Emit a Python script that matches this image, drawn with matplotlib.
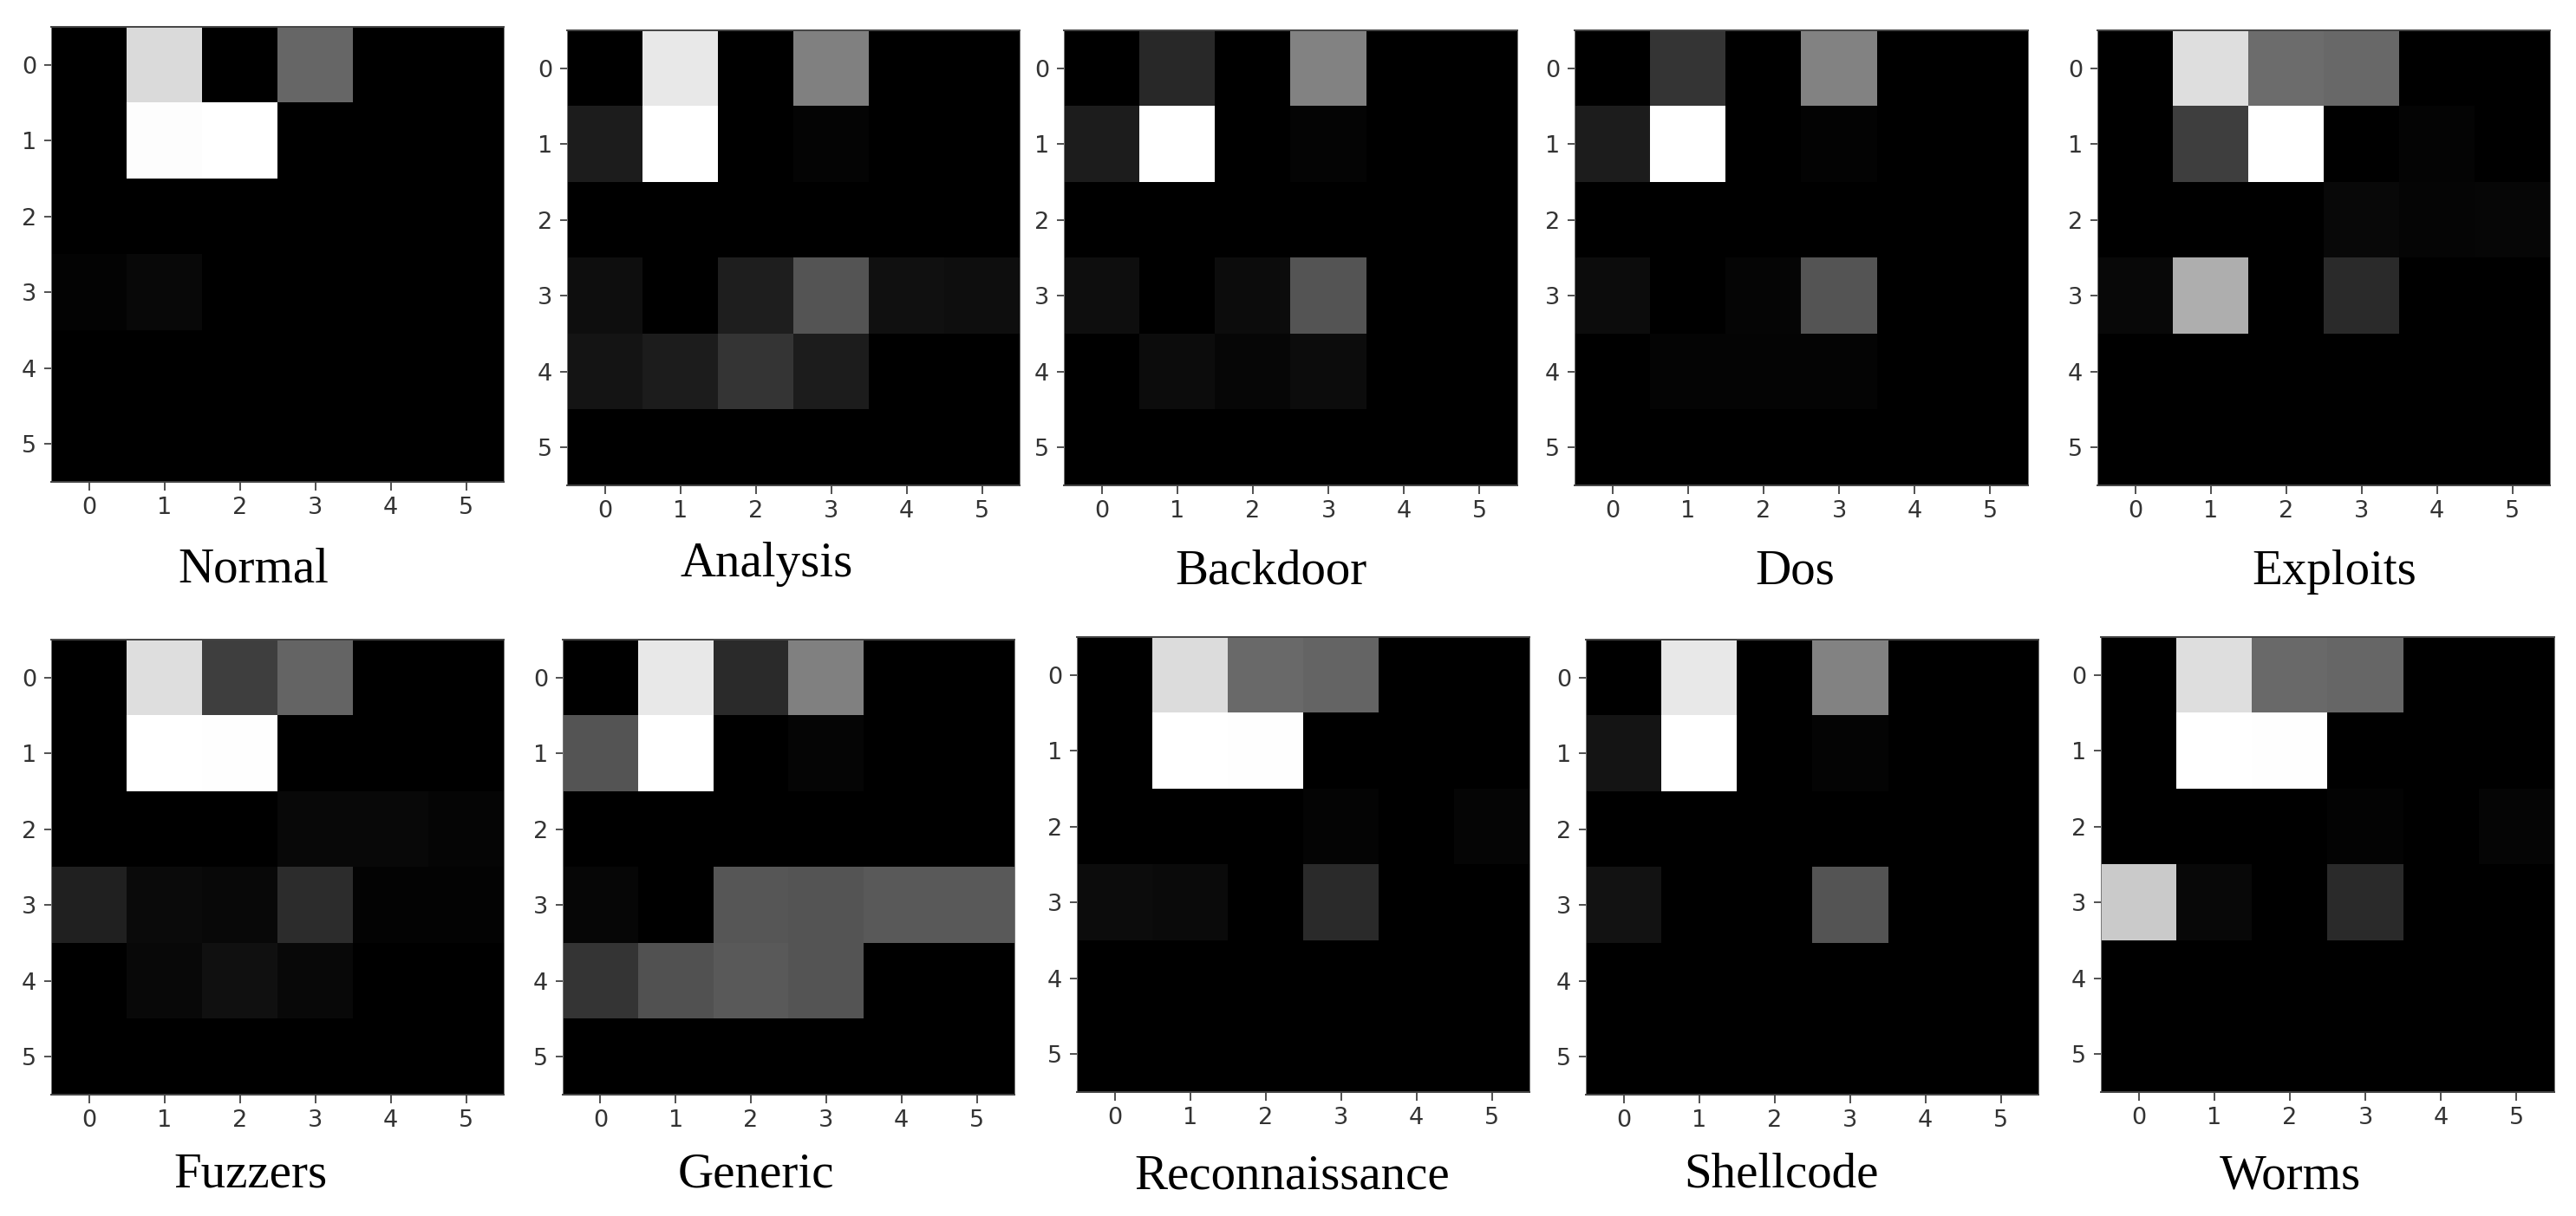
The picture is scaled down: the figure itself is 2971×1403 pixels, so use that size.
import matplotlib
matplotlib.use("Agg")
from matplotlib import pyplot as plt
import numpy as np

W, H = 2971, 1403

categorias = ['Normal', 'Analysis', 'Backdoor', 'Dos', 'Exploits',
              'Fuzzers', 'Generic', 'Reconnaissance', 'Shellcode', 'Worms']
ticks = [0, 1, 2, 3, 4, 5]

# niveles de gris (0-255)
normal = [[0, 218, 0, 102, 0, 0], [0, 253, 255, 0, 0, 0], [0, 0, 0, 0, 0, 0],
          [3, 8, 0, 0, 0, 0], [0, 0, 0, 0, 0, 0], [0, 0, 0, 0, 0, 0]]
analysis = [[0, 232, 0, 128, 0, 0], [28, 255, 0, 4, 0, 0], [0, 0, 0, 0, 0, 0],
            [14, 0, 30, 84, 16, 14], [20, 28, 52, 28, 0, 0], [0, 0, 0, 0, 0, 0]]
backdoor = [[0, 40, 0, 130, 0, 0], [28, 255, 0, 4, 0, 0], [0, 0, 0, 0, 0, 0],
            [14, 0, 12, 84, 0, 0], [0, 12, 6, 12, 0, 0], [0, 0, 0, 0, 0, 0]]
dos = [[0, 52, 0, 130, 0, 0], [28, 255, 0, 3, 0, 0], [0, 0, 0, 0, 0, 0],
       [12, 0, 5, 84, 0, 0], [0, 4, 4, 4, 0, 0], [0, 0, 0, 0, 0, 0]]
exploits = [[0, 222, 108, 104, 0, 0], [0, 62, 255, 0, 4, 0], [0, 0, 0, 8, 5, 6],
            [8, 174, 0, 42, 0, 0], [0, 0, 0, 0, 0, 0], [0, 0, 0, 0, 0, 0]]
fuzzers = [[0, 222, 62, 100, 0, 0], [0, 255, 254, 0, 0, 0], [0, 0, 0, 8, 8, 5],
           [32, 10, 8, 44, 3, 3], [0, 8, 16, 8, 0, 0], [0, 0, 0, 0, 0, 0]]
generic = [[0, 232, 42, 128, 0, 0], [84, 255, 0, 5, 0, 0], [0, 0, 0, 0, 0, 0],
           [6, 0, 86, 84, 90, 90], [52, 82, 90, 84, 0, 0], [0, 0, 0, 0, 0, 0]]
reconnaissance = [[0, 220, 106, 100, 0, 0], [0, 255, 254, 0, 0, 0], [0, 0, 0, 4, 0, 5],
                  [12, 10, 0, 42, 0, 0], [0, 0, 0, 0, 0, 0], [0, 0, 0, 0, 0, 0]]
shellcode = [[0, 232, 0, 130, 0, 0], [20, 255, 0, 4, 0, 0], [0, 0, 0, 0, 0, 0],
             [18, 0, 0, 84, 0, 0], [0, 0, 0, 0, 0, 0], [0, 0, 0, 0, 0, 0]]
worms = [[0, 222, 106, 102, 0, 0], [0, 255, 254, 0, 0, 0], [0, 0, 0, 3, 0, 5],
         [202, 8, 0, 42, 0, 0], [0, 0, 0, 0, 0, 0], [0, 0, 0, 0, 0, 0]]

matrices = [normal, analysis, backdoor, dos, exploits,
            fuzzers, generic, reconnaissance, shellcode, worms]

# cajas de cada panel en pixeles: izquierda, derecha, arriba, abajo
cajas = [(59, 581, 31, 556), (654, 1176, 35, 560), (1227, 1750, 35, 560),
         (1816, 2339, 35, 560), (2419, 2941, 35, 560),
         (59, 581, 738, 1263), (649, 1170, 738, 1263), (1242, 1764, 735, 1260),
         (1829, 2351, 738, 1263), (2423, 2946, 735, 1260)]

# centro y linea base de cada titulo en pixeles
titulos = [(292, 672), (884, 665), (1466, 674), (2070, 674), (2692, 674),
           (289, 1370), (872, 1370), (1490, 1371), (2055, 1370), (2641, 1371)]

fig = plt.figure(figsize=(W / 100, H / 100), dpi=100)

for nombre, matriz, caja, titulo in zip(categorias, matrices, cajas, titulos):
    izq, der, arr, aba = caja
    ax = fig.add_axes([izq / W, 1 - aba / H, (der - izq) / W, (aba - arr) / H])
    ax.imshow(np.array(matriz), cmap='gray', vmin=0, vmax=255,
              interpolation='nearest', aspect='auto')
    ax.set_xticks(ticks)
    ax.set_yticks(ticks)
    ax.tick_params(axis='x', labelsize=19.5, length=7.2, width=1.2, pad=5, colors='#333333')
    ax.tick_params(axis='y', labelsize=19.5, length=5.8, width=1.2, pad=6.5, colors='#333333')
    # lineas arriba y abajo mas marcadas que las de los lados
    for lado in ['top', 'bottom']:
        ax.spines[lado].set_linewidth(1.4)
        ax.spines[lado].set_color('#444444')
    for lado in ['left', 'right']:
        ax.spines[lado].set_linewidth(0.7)
        ax.spines[lado].set_color('#777777')
    fig.text(titulo[0] / W, 1 - titulo[1] / H, nombre, family='Liberation Serif',
             fontsize=41, ha='center', va='baseline', color='black')

plt.savefig('out.png', dpi=100)
